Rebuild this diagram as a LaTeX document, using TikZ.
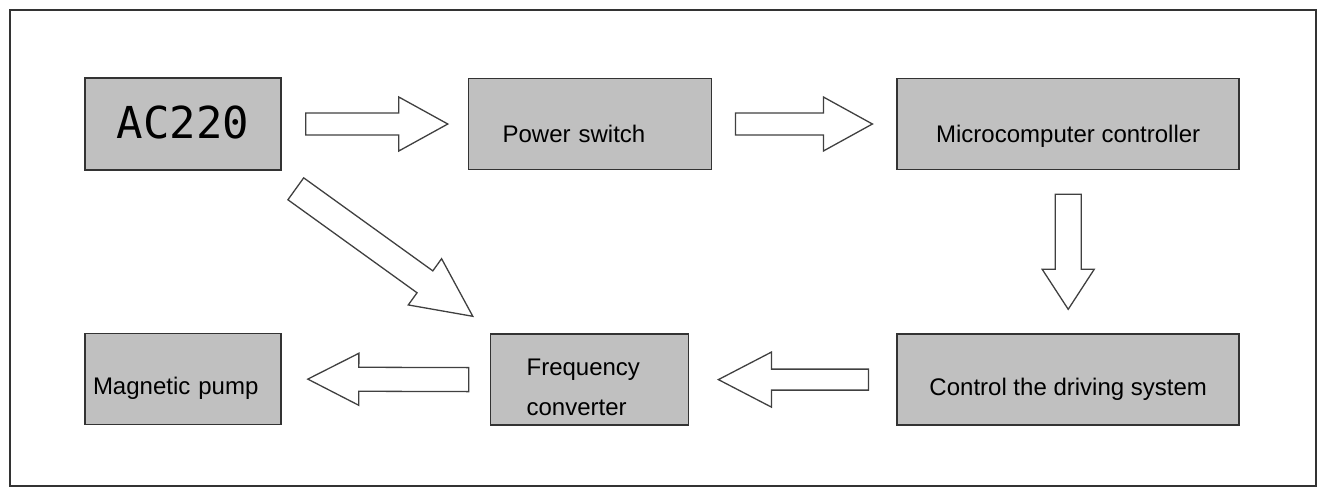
\documentclass[tikz,border=0pt]{standalone}
\usepackage{fontspec}
\setmainfont{Liberation Sans}
\newfontfamily\acfont{DejaVu Sans Mono}
\usetikzlibrary{positioning, calc}

\definecolor{boxgray}{HTML}{C0C0C0}
\tikzset{
	box/.style={draw=black!80, fill=boxgray, line width=1.6pt, inner ysep=0pt,
		text height=64pt, text depth=27pt, font=\fontsize{24pt}{40pt}\selectfont},
	fatarr/.style={draw=black!75, fill=white, line width=1.3pt, line join=miter},
}

% block arrow: tail, tip, shaft half width, head half width, head length
\newcommand{\fatarrow}[5]{%
	\coordinate (fa-s) at #1;
	\coordinate (fa-t) at #2;
	\coordinate (fa-h) at ($(fa-t)!#5!(fa-s)$);
	\draw[fatarr] ($(fa-s)!#3!90:(fa-t)$) -- ($(fa-h)!#3!90:(fa-t)$)
		-- ($(fa-h)!#4!90:(fa-t)$) -- (fa-t) -- ($(fa-h)!#4!-90:(fa-t)$)
		-- ($(fa-h)!#3!-90:(fa-t)$) -- ($(fa-s)!#3!-90:(fa-t)$) -- cycle;
}

\begin{document}
\begin{tikzpicture}[x=1pt, y=-1pt]
	\useasboundingbox (0,0) rectangle (1322,488);
	% Frame
	\draw[line width=1.3pt, black!80] (10,10) rectangle (1316,486);

	% Define nodes
	\node[box, minimum width=196pt, text height=60pt, text depth=32pt,
		font=\acfont\fontsize{44pt}{44pt}\selectfont] (ac) at (183,124) {AC220};
	\node[box, text width=175pt, inner xsep=34pt, align=left, right=186pt of ac] (power) {Power switch};
	\node[box, minimum width=342pt, right=184pt of power] (micro) {Microcomputer controller};
	\node[box, minimum width=342pt, text height=61pt, text depth=30pt, below=163pt of micro] (drive) {Control the driving system};
	\node[box, text width=180pt, inner xsep=8pt, align=left, text height=61pt, text depth=30pt, below=162pt of ac] (pump) {Magnetic pump};
	\node[box, text width=126pt, inner xsep=36pt, align=left, text height=41pt, text depth=50pt, left=207pt of drive] (freq) {Frequency\\converter};

	% Block arrows
	\fatarrow{($(ac.east)+(24,0)$)}{($(power.west)-(20,0)$)}{11pt}{27pt}{49pt}
	\fatarrow{($(power.east)+(23,0)$)}{($(micro.west)-(24,0)$)}{11pt}{27pt}{49pt}
	\fatarrow{($(micro.south)+(0,24)$)}{($(drive.north)-(0,24)$)}{13pt}{26pt}{40pt}
	\fatarrow{($(drive.west)-(28,0)$)}{($(freq.east)+(29,0)$)}{10.5pt}{27.5pt}{53pt}
	\fatarrow{($(freq.west)-(21,0)$)}{($(pump.east)+(26,0)$)}{12pt}{26pt}{51pt}
	\fatarrow{($(ac.south east)+(14,18)$)}{($(freq.north west)+(-17,-17)$)}{13.5pt}{28.5pt}{59pt}
\end{tikzpicture}
\end{document}
